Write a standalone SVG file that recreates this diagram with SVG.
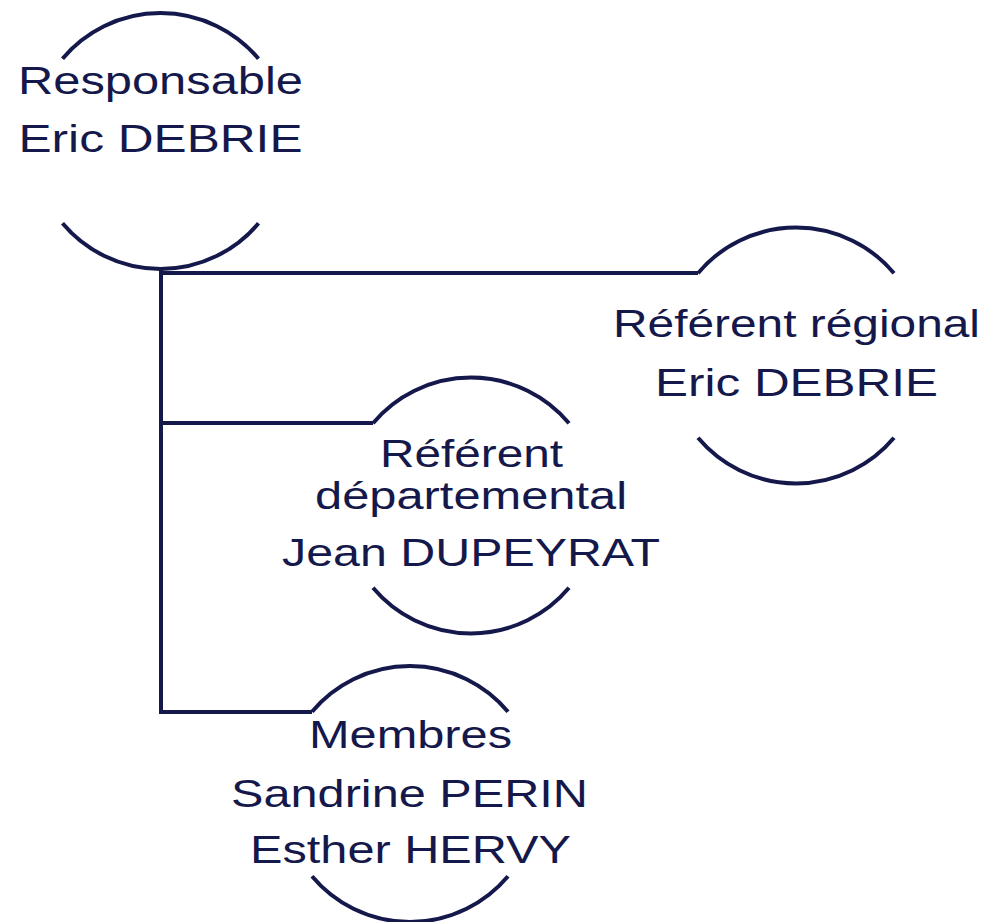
<svg xmlns="http://www.w3.org/2000/svg" width="988" height="922" viewBox="0 0 988 922">
<style>
.arc{fill:none;stroke:#15184a;stroke-width:4}
.con{fill:none;stroke:#15184a;stroke-width:4;stroke-linejoin:miter}
text{font-family:"Liberation Sans",Arial,sans-serif;font-size:38px;fill:#15184a;text-anchor:middle}
</style>
<rect width="988" height="922" fill="#ffffff"/>
<g id="connectors">
<path class="con" d="M161,268 L161,712 L312,712"/>
<path class="con" d="M161,273 L698,273"/>
<path class="con" d="M161,423 L373,423"/>
</g>
<g id="n1">
<path class="arc" d="M62.5,58.7 A128,128 0 0 1 258.5,58.7"/>
<path class="arc" d="M62.5,223.3 A128,128 0 0 0 258.5,223.3"/>
<text x="160.5" y="94" textLength="285" lengthAdjust="spacingAndGlyphs">Responsable</text>
<text x="160.5" y="152" textLength="284" lengthAdjust="spacingAndGlyphs">Eric DEBRIE</text>
</g>
<g id="n2">
<path class="arc" d="M698,273.2 A128,128 0 0 1 894,273.2"/>
<path class="arc" d="M698,437.8 A128,128 0 0 0 894,437.8"/>
<text x="796.5" y="337" textLength="367" lengthAdjust="spacingAndGlyphs">Référent régional</text>
<text x="796.5" y="396" textLength="283" lengthAdjust="spacingAndGlyphs">Eric DEBRIE</text>
</g>
<g id="n3">
<path class="arc" d="M373,423.2 A128,128 0 0 1 569,423.2"/>
<path class="arc" d="M373,587.8 A128,128 0 0 0 569,587.8"/>
<text x="471.5" y="467" textLength="183" lengthAdjust="spacingAndGlyphs">Référent</text>
<text x="471" y="509" textLength="312" lengthAdjust="spacingAndGlyphs">départemental</text>
<text x="471" y="566" textLength="378" lengthAdjust="spacingAndGlyphs">Jean DUPEYRAT</text>
</g>
<g id="n4">
<path class="arc" d="M312,711.7 A128,128 0 0 1 508,711.7"/>
<path class="arc" d="M312,876.3 A128,128 0 0 0 508,876.3"/>
<text x="410.5" y="748" textLength="203" lengthAdjust="spacingAndGlyphs">Membres</text>
<text x="409.5" y="807" textLength="357" lengthAdjust="spacingAndGlyphs">Sandrine PERIN</text>
<text x="410.5" y="863" textLength="321" lengthAdjust="spacingAndGlyphs">Esther HERVY</text>
</g>
</svg>
